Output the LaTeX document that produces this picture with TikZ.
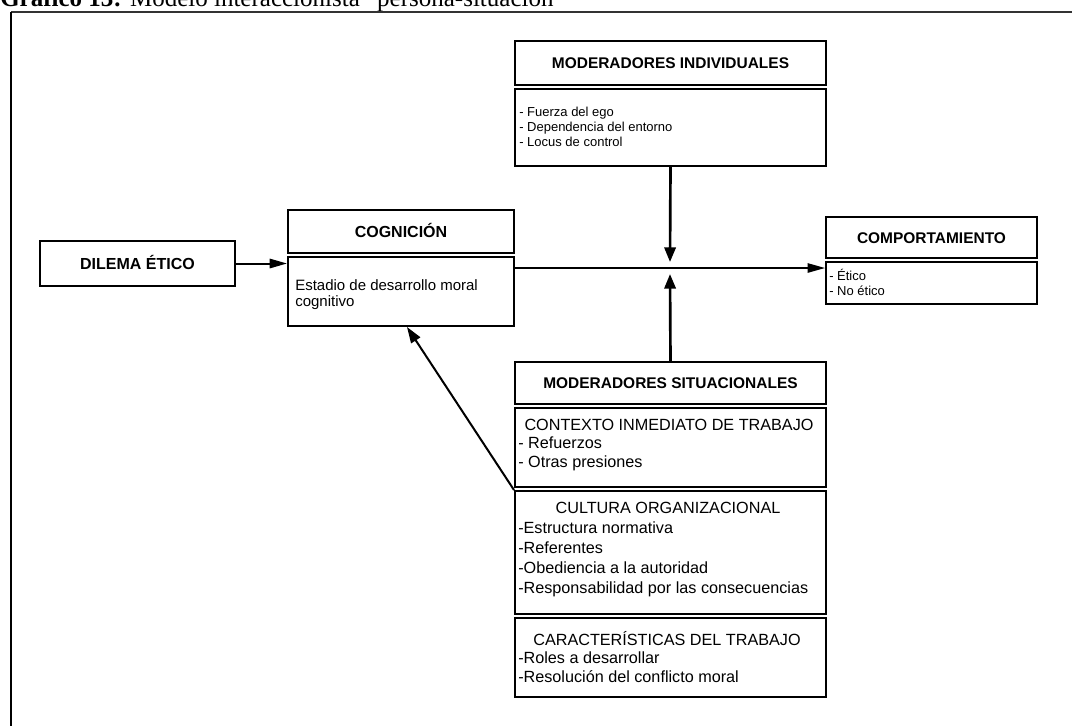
\documentclass[tikz,border=0pt]{standalone}
\usepackage{fontspec}
\setmainfont{Liberation Sans}
\newfontfamily\captionserif{Liberation Serif}
\usetikzlibrary{arrows.meta,calc,fit}

\begin{document}
\begin{tikzpicture}[x=0.75pt,y=-0.75pt,
  box/.style={draw, line width=1.5pt, inner sep=0pt},
  headtxt/.style={anchor=base, inner sep=0pt, font=\fontsize{11.6}{13}\selectfont\bfseries},
  bigheadtxt/.style={anchor=base, inner sep=0pt, font=\fontsize{12}{13}\selectfont\bfseries},
  listsmall/.style={anchor=north west, inner sep=0pt, align=left,
    font=\fontsize{9.75}{11.25}\selectfont},
  listmid/.style={anchor=north west, inner sep=0pt, align=left,
    font=\fontsize{11.25}{12}\selectfont},
  listlow/.style={anchor=north west, inner sep=0pt, align=left,
    font=\fontsize{12.15}{13.9}\selectfont},
  lowtitle/.style={anchor=base, inner sep=0pt,
    font=\fontsize{12.15}{13.9}\selectfont},
  flow/.style={line width=1.1pt},
  feed/.style={line width=1.5pt},
  moder/.style={line width=2pt},
  htip/.style={-{Triangle[length=13pt,width=7pt]}},
  vtip/.style={-{Triangle[length=11pt,width=8.5pt]}},
  dtip/.style={-{Triangle[length=12pt,width=8pt]}}
]
\useasboundingbox (0,0) rectangle (1072,726);

% caption and frame
\node[anchor=base west, inner sep=0pt,
  font=\captionserif\fontsize{18.75}{20}\selectfont] (caption) at (0,6)
  {\textbf{Gráfico 13:} Modelo interaccionista “persona-situación”};
\coordinate (frameTL) at (11,12);
\coordinate (frameTR) at (1072,12);
\coordinate (frameBL) at (11,726);
\draw[line width=1pt, black!80] (frameTL) -- (frameTR);
\draw[line width=1.5pt] (frameTL) -- (frameBL);

% individual moderators
\node[box, fit={(515,41) (826,85)}] (indh) {};
\node[headtxt] (indhl) at ($(indh.center)+(0,5.5)$) {MODERADORES INDIVIDUALES};
\node[box, fit={(515,89) (826,166)}] (indc) {};
\node[listsmall] (indt) at (519,106.5)
  {- Fuerza del ego\\- Dependencia del entorno\\- Locus de control};

% ethical dilemma
\node[box, fit={(40,241) (235,286)}] (dil) {};
\node[bigheadtxt] (dill) at ($(dil.center)+(0,5.7)$) {DILEMA ÉTICO};

% cognition
\node[box, fit={(288,210) (514,253)}] (cogh) {};
\node[bigheadtxt] (coghl) at ($(cogh.center)+(0,5.7)$) {COGNICIÓN};
\node[box, fit={(288,257) (514,326)}] (cogc) {};
\node[listmid] (cogt) at (295,279) {Estadio de desarrollo moral\\cognitivo};

% behaviour
\node[box, fit={(826,217) (1037,258)}] (comph) {};
\node[headtxt] (comphl) at ($(comph.center)+(0,5.5)$) {COMPORTAMIENTO};
\node[box, fit={(826,262) (1037,304)}] (compc) {};
\node[listsmall] (compt) at (829,268.5) {- Ético\\- No ético};

% situational moderators
\node[box, fit={(515,362) (826,404)}] (sith) {};
\node[headtxt] (sithl) at ($(sith.center)+(0,5.5)$) {MODERADORES SITUACIONALES};

\node[box, fit={(515,408) (826,487)}] (ctx) {};
\node[lowtitle] (ctxh) at (669,430) {CONTEXTO INMEDIATO DE TRABAJO};
\node[listlow] (ctxt) at (518,436.7) {- Refuerzos\\- Otras presiones};

\node[box, fit={(515,491) (826,614)}] (cult) {};
\node[lowtitle] (culth) at (668,513) {CULTURA ORGANIZACIONAL};
\node[listlow, font=\fontsize{12.15}{15}\selectfont] (cultt) at (518,521.2)
  {-Estructura normativa\\-Referentes\\-Obediencia a la autoridad\\-Responsabilidad por las consecuencias};

\node[box, fit={(515,618) (826,697)}] (car) {};
\node[lowtitle] (carh) at (667,645) {CARACTERÍSTICAS DEL TRABAJO};
\node[listlow] (cart) at (518,651.7) {-Roles a desarrollar\\-Resolución del conflicto moral};

% connectors
\coordinate (jn) at (670,268);
\draw[feed, htip] (dil.east) -- (dil.east -| cogc.west);
\draw[flow, htip] (cogc.east |- jn) -- (compc.west |- jn);
\draw[moder, vtip] (indc.south) -- ($(jn)+(0,-6)$);
\draw[moder, vtip] (sith.north) -- ($(jn)+(0,6)$);
\draw[feed, dtip] (cult.north west) -- ($(cogc.south west)+(120,0)$);
\end{tikzpicture}
\end{document}
